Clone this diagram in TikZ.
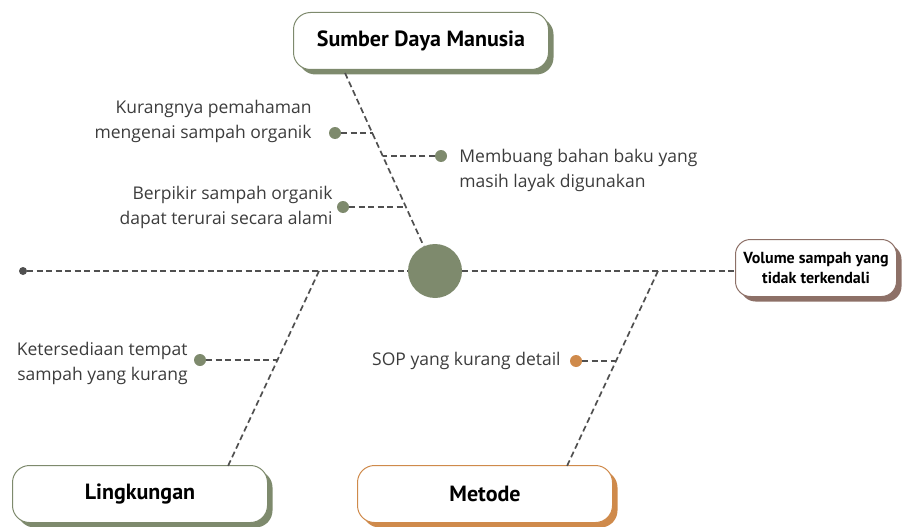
\documentclass[tikz,border=0pt]{standalone}
\usepackage{fontspec}
\setmainfont{Open Sans}
\newfontfamily\judul{PT Sans}
\usetikzlibrary{positioning,shadows}

\definecolor{sage}{HTML}{7E8A6D}
\definecolor{copper}{HTML}{CF8A4B}
\definecolor{mauve}{HTML}{8D7067}
\definecolor{tulangc}{HTML}{505050}
\definecolor{teks}{HTML}{3C3C3C}

\tikzset{
  kategori/.style={draw=#1, fill=white, line width=1pt, rounded corners=17pt,
    minimum width=255pt, minimum height=57pt,
    font=\judul\bfseries\fontsize{22}{24}\selectfont,
    drop shadow={shadow xshift=5pt, shadow yshift=-5pt, fill=#1, opacity=1}},
  akibat/.style={draw=mauve, fill=white, line width=1pt, rounded corners=15pt,
    minimum width=161pt, minimum height=57pt, align=center, inner sep=2pt,
    font=\judul\bfseries\fontsize{16}{20}\selectfont,
    drop shadow={shadow xshift=5pt, shadow yshift=-5pt, fill=mauve, opacity=1}},
  tulang/.style={draw=tulangc, line width=1.7pt, dash pattern=on 6pt off 3.5pt},
  titik/.style={circle, fill=#1, minimum size=12pt, inner sep=0pt},
  ket/.style={text=teks, inner sep=0pt, font=\fontsize{17.5}{25}\selectfont}
}

\begin{document}
\begin{tikzpicture}[x=1pt,y=-1pt]
  \useasboundingbox (0,0) rectangle (905,527);

  \node[kategori=sage] (sdm) at (421,41) {Sumber Daya Manusia};
  \node[kategori=sage] (lingk) at (140,494) {Lingkungan};
  \node[kategori=copper] (metode) at (485,494) {Metode};
  \node[akibat] (volume) at (816,268) {Volume sampah yang\\tidak terkendali};
  \node[circle, fill=sage, minimum size=54pt, inner sep=0pt] (pusat) at (435,271) {};
  \node[circle, fill=tulangc, minimum size=8pt, inner sep=0pt] (ekor) at (23,271) {};

  \coordinate (s0) at (345,73);
  \coordinate (s1) at (373,133);
  \coordinate (s2) at (383,156);
  \coordinate (s3) at (406,207);
  \coordinate (l0) at (319,271);
  \coordinate (l1) at (277,360);
  \coordinate (l2) at (228,466);
  \coordinate (m0) at (658,271);
  \coordinate (m1) at (616,361);
  \coordinate (m2) at (567,466);

  \node[titik=sage] (d1) at (335,133) {};
  \node[titik=sage] (d2) at (441,156) {};
  \node[titik=sage] (d3) at (343,207) {};
  \node[titik=sage] (d4) at (200,360) {};
  \node[titik=copper] (d5) at (576,361) {};

  \node[ket, align=right, left=17pt of d1, yshift=11.5pt] (k1) {Kurangnya pemahaman\\mengenai sampah organik};
  \node[ket, align=left, right=12pt of d2, yshift=-14pt] (k2) {Membuang bahan baku yang\\masih layak digunakan};
  \node[ket, align=right, left=4pt of d3] (k3) {Berpikir sampah organik\\dapat terurai secara alami};
  \node[ket, align=right, left=6pt of d4, yshift=-3.5pt] (k4) {Ketersediaan tempat\\sampah yang kurang};
  \node[ket, left=9pt of d5] (k5) {SOP yang kurang detail};

  \draw[tulang] (ekor) -- (pusat) -- (pusat -| volume.west);
  \draw[tulang] (s0) -- (pusat);
  \draw[tulang] (l0) -- (l2);
  \draw[tulang] (m0) -- (m2);
  \draw[tulang] (d1) -- (s1);
  \draw[tulang] (d2) -- (s2);
  \draw[tulang] (d3) -- (s3);
  \draw[tulang] (d4) -- (l1);
  \draw[tulang] (d5) -- (m1);
\end{tikzpicture}
\end{document}
